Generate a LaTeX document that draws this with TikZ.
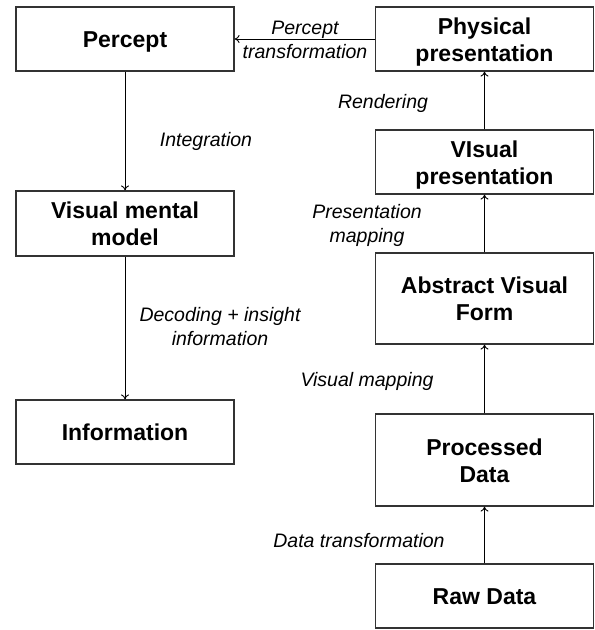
\documentclass[tikz,border=0pt]{standalone}
\usepackage{fontspec}
\setmainfont{Liberation Sans}
\usetikzlibrary{arrows.meta}
\newcommand\bstrut{\rule{0pt}{23pt}}

\begin{document}
\begin{tikzpicture}[x=1pt, y=-1pt,
  box/.style={draw=black!80, line width=1.2pt, minimum width=218pt, align=center,
    inner sep=0pt, font=\fontsize{23}{27}\selectfont\bfseries,
    execute at end node={\rule[-5.5pt]{0pt}{0pt}}},
  lbl/.style={align=center, inner sep=0pt, font=\fontsize{19.5}{24}\selectfont\itshape,
    execute at end node=\strut},
  flow/.style={-{To[length=5pt,width=8pt]}, line width=0.9pt}]
\useasboundingbox (0,0) rectangle (595,630);
% left column
\node[box, minimum height=64pt] (percept) at (125,39) {\bstrut Percept};
\node[box, minimum height=65pt] (vmm) at (125,223.5) {\bstrut Visual mental\\model};
\node[box, minimum height=64pt] (info) at (125,432) {\bstrut Information};
% right column
\node[box, minimum height=64pt] (phys) at (484.5,39) {\bstrut Physical\\presentation};
\node[box, minimum height=64pt] (vispres) at (484.5,162) {\bstrut VIsual\\presentation};
\node[box, minimum height=91pt] (avf) at (484.5,298.5) {\bstrut Abstract Visual\\Form};
\node[box, minimum height=92pt] (proc) at (484.5,460) {\bstrut Processed\\Data};
\node[box, minimum height=64pt] (raw) at (484.5,596) {\bstrut Raw Data};
% arrows
\draw[flow] (raw) -- (proc);
\draw[flow] (proc) -- (avf);
\draw[flow] (avf) -- (vispres);
\draw[flow] (vispres) -- (phys);
\draw[flow] (phys) -- (percept);
\draw[flow] (percept) -- (vmm);
\draw[flow] (vmm) -- (info);
% labels
\node[lbl] (lpt) at (305,42) {\strut Percept\\transformation};
\node[lbl] (lint) at (206,142) {\strut Integration};
\node[lbl] (lrend) at (383,103.5) {\strut Rendering};
\node[lbl] (lpm) at (367,225.5) {\strut Presentation\\mapping};
\node[lbl] (ldec) at (220,328.5) {\strut Decoding + insight\\information};
\node[lbl] (lvm) at (367,382) {\strut Visual mapping};
\node[lbl] (ldt) at (359,542.5) {\strut Data transformation};
\end{tikzpicture}
\end{document}
